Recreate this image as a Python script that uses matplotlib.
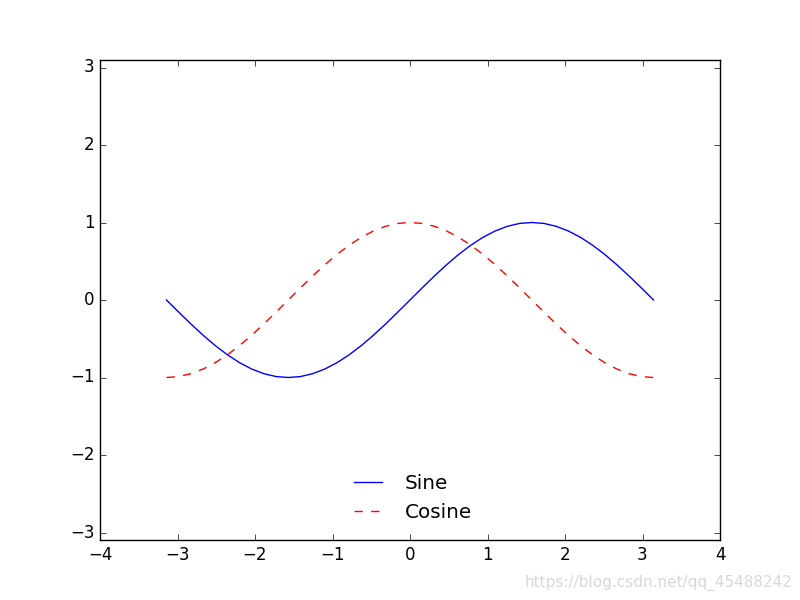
import matplotlib
matplotlib.use("Agg")
import matplotlib.pyplot as plt

plt.style.use("classic")

x_vals = [-3.142, -2.985, -2.827, -2.670, -2.513, -2.356, -2.199, -2.042, -1.885, -1.728,
          -1.571, -1.414, -1.257, -1.100, -0.942, -0.785, -0.628, -0.471, -0.314, -0.157,
          0.000, 0.157, 0.314, 0.471, 0.628, 0.785, 0.942, 1.100, 1.257, 1.414,
          1.571, 1.728, 1.885, 2.042, 2.199, 2.356, 2.513, 2.670, 2.827, 2.985, 3.142]

sine_vals = [0.000, -0.156, -0.309, -0.454, -0.588, -0.707, -0.809, -0.891, -0.951, -0.988,
             -1.000, -0.988, -0.951, -0.891, -0.809, -0.707, -0.588, -0.454, -0.309, -0.156,
             0.000, 0.156, 0.309, 0.454, 0.588, 0.707, 0.809, 0.891, 0.951, 0.988,
             1.000, 0.988, 0.951, 0.891, 0.809, 0.707, 0.588, 0.454, 0.309, 0.156, 0.000]

cosine_vals = [-1.000, -0.988, -0.951, -0.891, -0.809, -0.707, -0.588, -0.454, -0.309, -0.156,
               0.000, 0.156, 0.309, 0.454, 0.588, 0.707, 0.809, 0.891, 0.951, 0.988,
               1.000, 0.988, 0.951, 0.891, 0.809, 0.707, 0.588, 0.454, 0.309, 0.156,
               0.000, -0.156, -0.309, -0.454, -0.588, -0.707, -0.809, -0.891, -0.951, -0.988, -1.000]

fig, ax = plt.subplots(figsize=(8, 6), dpi=100)
ax.plot(x_vals, sine_vals, "-b", label="Sine")
ax.plot(x_vals, cosine_vals, "--r", label="Cosine")
ax.axis("equal")
ax.set_xlim(-4, 4)
ax.legend(loc="lower center", frameon=False)

fig.text(0.99, 0.015, "https://blog.csdn.net/qq_45488242", ha="right", va="bottom",
         color="#d8d8d8", fontsize=11)

fig.savefig("out.png", dpi=100)
